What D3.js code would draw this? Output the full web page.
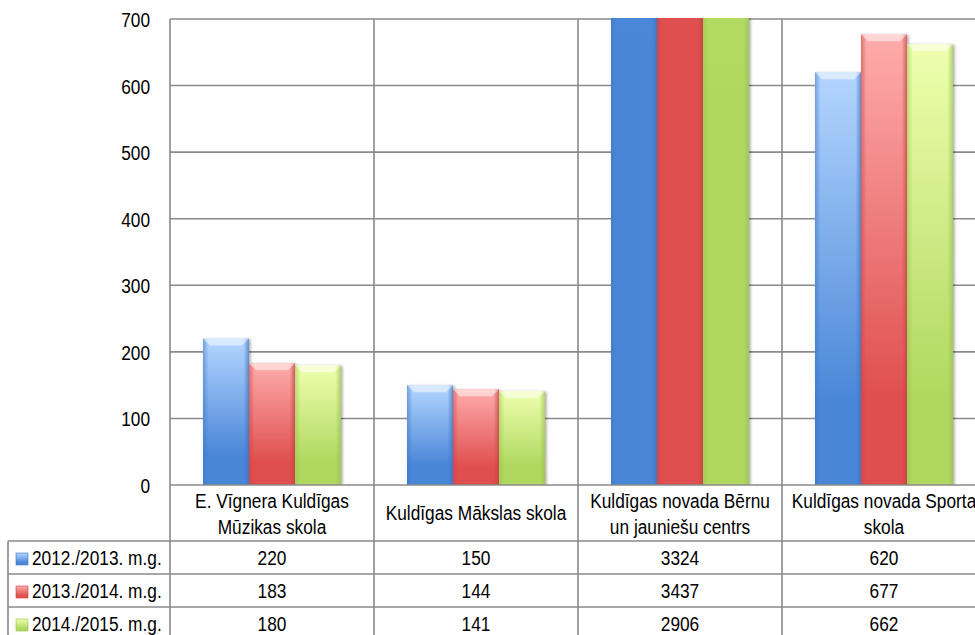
<!DOCTYPE html>
<html><head><meta charset="utf-8">
<script src="https://cdn.jsdelivr.net/npm/d3@7"></script>
<style>
html,body{margin:0;padding:0;background:#fff;}
svg text{font-family:"Liberation Sans",Arial,sans-serif;font-size:17.3px;fill:#000;}
</style>
</head><body>
<svg id="chart" width="975" height="635"></svg>
<script>
const categories = [
  ["E. Vīgnera Kuldīgas", "Mūzikas skola"],
  ["Kuldīgas Mākslas skola"],
  ["Kuldīgas novada Bērnu", "un jauniešu centrs"],
  ["Kuldīgas novada Sporta", "skola"]
];
const seriesNames = ["2012./2013. m.g.", "2013./2014. m.g.", "2014./2015. m.g."];
const values2012 = [220, 150, 3324, 620];
const values2013 = [183, 144, 3437, 677];
const values2014 = [180, 141, 2906, 662];
const yTicks = [0, 100, 200, 300, 400, 500, 600, 700];

const seriesValues = [values2012, values2013, values2014];
const colors = [
  {light:"#b4d6ff", base:"#4a86d8", dark:"#3d74c4"},
  {light:"#ffacac", base:"#e05050", dark:"#c84242"},
  {light:"#eeffae", base:"#b0d860", dark:"#98c24c"}
];

const svg = d3.select("#chart");
const plotLeft = 170, plotRight = 986, plotTop = 19, plotBottom = 485;
const tableLeft = 8;
const headerBottom = 541, rowH = 33;
const gridColor = "#8a8a8a";
const VS = 1.2; // vertical stretch of the text, as in the reference

function place(sel, xf, yf){
  sel.attr("x",0).attr("y",0)
     .attr("transform",(d,i)=>`translate(${typeof xf==="function"?xf(d,i):xf},${typeof yf==="function"?yf(d,i):yf}) scale(1,${VS})`);
}

const catIdx = categories.map((d,i)=>i);
const x = d3.scaleBand().domain(catIdx).range([plotLeft, plotRight])
  .paddingInner(66/204).paddingOuter(33/204);
const xs = d3.scaleBand().domain(d3.range(seriesNames.length)).range([0, x.bandwidth()]);
const y = d3.scaleLinear().domain([0, 700]).range([plotBottom, plotTop]);
const step = x.step();

const defs = svg.append("defs");
colors.forEach((c,i)=>{
  const g = defs.append("linearGradient").attr("id","grad"+i)
    .attr("x1",0).attr("y1",0).attr("x2",0).attr("y2",1);
  g.append("stop").attr("offset","0").attr("stop-color",c.light);
  g.append("stop").attr("offset","0.8").attr("stop-color",c.base);
  g.append("stop").attr("offset","1").attr("stop-color",c.base);
  const h = defs.append("linearGradient").attr("id","side"+i)
    .attr("x1",0).attr("y1",0).attr("x2",1).attr("y2",0);
  h.append("stop").attr("offset","0").attr("stop-color",c.dark).attr("stop-opacity",0.55);
  h.append("stop").attr("offset","0.12").attr("stop-color",c.dark).attr("stop-opacity",0);
  h.append("stop").attr("offset","0.88").attr("stop-color",c.dark).attr("stop-opacity",0);
  h.append("stop").attr("offset","1").attr("stop-color",c.dark).attr("stop-opacity",0.7);
});
defs.append("clipPath").attr("id","plotClip").append("rect")
  .attr("x", plotLeft).attr("y", plotTop - 1).attr("width", plotRight - plotLeft).attr("height", plotBottom - plotTop + 1);
const f = defs.append("filter").attr("id","shadow").attr("x","-20%").attr("y","-5%").attr("width","140%").attr("height","110%");
f.append("feDropShadow").attr("dx",1.5).attr("dy",1).attr("stdDeviation",1.5).attr("flood-color","#000").attr("flood-opacity",0.35);

// gridlines
svg.append("g").selectAll("line").data(yTicks.filter(t=>t>0)).join("line")
  .attr("x1", plotLeft).attr("x2", 975).attr("y1", d=>y(d)).attr("y2", d=>y(d))
  .attr("stroke", gridColor).attr("stroke-width", 1.6);

// y axis labels
const yAxis = d3.axisLeft(y).tickValues(yTicks).tickSize(0).tickPadding(plotLeft - 150);
const ya = svg.append("g").attr("transform", `translate(${plotLeft},0)`).call(yAxis);
ya.select(".domain").remove();
ya.attr("font-family",null).attr("font-size",null);
ya.selectAll("text").attr("fill","#000").attr("dy",null).attr("text-anchor","end")
  .attr("x",0).attr("y",0).attr("transform",`translate(-20,7.5) scale(1,${VS})`);

// bars
const barsG = svg.append("g").attr("clip-path","url(#plotClip)");
seriesValues.forEach((vals, s)=>{
  const g = barsG.append("g");
  const bars = g.selectAll("g").data(vals.map((v,i)=>({v,i}))).join("g")
    .attr("filter","url(#shadow)");
  bars.append("rect")
    .attr("x", d=>x(d.i) + xs(s)).attr("width", xs.bandwidth())
    .attr("y", d=>y(d.v)).attr("height", d=>y(0)-y(d.v))
    .attr("fill", `url(#grad${s})`);
  bars.append("rect")
    .attr("x", d=>x(d.i) + xs(s)).attr("width", xs.bandwidth())
    .attr("y", d=>y(d.v)).attr("height", d=>y(0)-y(d.v))
    .attr("fill", `url(#side${s})`);
  bars.append("polygon")
    .attr("points", d=>{
      const x0 = x(d.i)+xs(s), x1 = x0 + xs.bandwidth(), t = y(d.v), b = 7;
      return `${x0},${t} ${x1},${t} ${x1-b},${t+b} ${x0+b},${t+b}`;
    })
    .attr("fill","#fff").attr("fill-opacity",0.5);
});

// vertical column lines
const vLines = catIdx.map(i=>x(i) - x.paddingOuter()*step);
svg.append("g").selectAll("line").data(vLines).join("line")
  .attr("x1", d=>d).attr("x2", d=>d).attr("y1", plotTop).attr("y2", 635)
  .attr("stroke", gridColor).attr("stroke-width", 1.6);

// axis baseline & table rows
svg.append("line").attr("x1", plotLeft).attr("x2", 975).attr("y1", plotBottom).attr("y2", plotBottom)
  .attr("stroke", gridColor).attr("stroke-width", 1.6);
const rowTops = seriesNames.map((n,i)=>headerBottom + i*rowH);
svg.append("g").selectAll("line").data(rowTops).join("line")
  .attr("x1", tableLeft).attr("x2", 975).attr("y1", d=>d).attr("y2", d=>d)
  .attr("stroke", gridColor).attr("stroke-width", 1.6);
svg.append("line").attr("x1", tableLeft).attr("x2", tableLeft).attr("y1", headerBottom).attr("y2", 635)
  .attr("stroke", gridColor).attr("stroke-width", 1.6);

// category labels (one text per line)
const catLines = [];
categories.forEach((lines,i)=>lines.forEach((t,j)=>catLines.push({t, i, y: lines.length===1 ? 520 : 508 + j*26})));
const cl = svg.append("g").selectAll("text").data(catLines).join("text")
  .attr("text-anchor","middle").text(d=>d.t);
place(cl, d=>x(d.i) + x.bandwidth()/2, d=>d.y);

// legend keys and names
const leg = svg.append("g").selectAll("g").data(seriesNames).join("g")
  .attr("transform",(d,i)=>`translate(0,${rowTops[i]})`);
leg.append("rect").attr("x",16).attr("y",12).attr("width",12).attr("height",12)
  .attr("fill",(d,i)=>`url(#grad${i})`).attr("stroke",(d,i)=>colors[i].dark).attr("stroke-width",0.6);
place(leg.append("text").text(d=>d), 32, 24);

// values
seriesValues.forEach((vals,s)=>{
  const t = svg.append("g").selectAll("text").data(vals).join("text")
    .attr("text-anchor","middle").text(d=>d);
  place(t, (d,i)=>x(i)+x.bandwidth()/2, rowTops[s] + 24);
});
</script>
</body></html>
